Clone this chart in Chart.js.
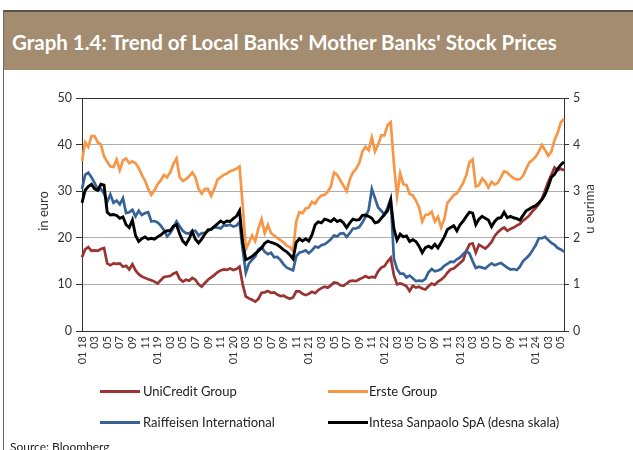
<!DOCTYPE html>
<html>
<head>
<meta charset="utf-8">
<script src="https://cdn.jsdelivr.net/npm/chart.js@4.4.1/dist/chart.umd.min.js"></script>
<style>
  body { margin: 0; background: #fff; }
  #wrap { position: relative; width: 633px; height: 450px; overflow: hidden; font-family: Lato, "Noto Sans", sans-serif; }
  #frame { position: absolute; left: 3px; top: 10px; width: 640px; height: 460px; border-left: 1px solid #6a6a6a; border-top: 2px solid #5b534b; }
  #band { position: absolute; left: 4px; top: 12px; width: 629px; height: 58px; background: #a38c70; }
  #band div { position: absolute; left: 8px; top: 20px; font-size: 20.5px; line-height: 21px; font-weight: 700; color: #fff; white-space: nowrap; }
  canvas { position: absolute; left: 0; top: 0; }
  .sw { position: absolute; width: 40px; height: 3px; }
  .lt { position: absolute; font-size: 13px; line-height: 14px; color: #222; white-space: nowrap; }
  #src { position: absolute; left: 10px; top: 440px; font-size: 12px; line-height: 14px; color: #222; }
</style>
</head>
<body>
<div id="wrap">
  <canvas id="StockChart" width="633" height="450"></canvas>
  <div id="frame"></div>
  <div id="band"><div>Graph 1.4: Trend of Local Banks' Mother Banks' Stock Prices</div></div>
  <div class="sw" style="left:100px;top:390px;background:#9a3432"></div>
  <div class="lt" style="left:143px;top:384px">UniCredit Group</div>
  <div class="sw" style="left:328px;top:390px;background:#f79646"></div>
  <div class="lt" style="left:369px;top:384px">Erste Group</div>
  <div class="sw" style="left:100px;top:421px;background:#376296"></div>
  <div class="lt" style="left:143px;top:415px">Raiffeisen International</div>
  <div class="sw" style="left:328px;top:421px;background:#000"></div>
  <div class="lt" style="left:369px;top:415px">Intesa Sanpaolo SpA (desna skala)</div>
  <div id="src">Source: Bloomberg</div>
</div>
<script>
// half-month observations, Jan 2018 - May 2024
var tickLabels = ['01 18','03','05','07','09','11','01 19','03','05','07','09','11',
  '01 20','03','05','07','09','11','01 21','03','05','07','09','11',
  '01 22','03','05','07','09','11','01 23','03','05','07','09','11',
  '01 24','03','05'];

var uniCredit = [
  15.8,17.5,18,17.2,17.3,17.2,17.6,17.8,14.5,14.1,
  14.5,14.4,14.5,13.8,14,13.2,14.3,13,12.2,11.7,
  11.4,11.1,10.9,10.6,10.2,10.9,11.6,11.7,11.8,12.3,
  12.6,11.2,10.6,11,10.8,11.4,11,10,9.5,10.3,
  11,11.5,12,12.6,13,13.2,13.1,13.4,13.1,13.3,
  13.8,10,7.4,7,6.7,6.3,6.9,8.2,8.3,8.6,
  8.2,8.3,7.8,7.5,7.6,7.2,6.9,7.2,8.5,8.5,
  8,7.7,8,8.4,8.1,8.8,9.2,9.5,9.3,9.8,
  10.4,10.3,9.8,9.7,10.2,10.7,10.8,10.7,11.1,11.4,
  11.8,11.4,11.6,11.5,12.8,13.6,13.9,14.9,15.7,12,
  10,10.2,10,9.6,8.6,9.7,9.3,9.5,9.1,8.9,
  9.6,10.2,9.9,10.6,11,11.6,12.5,13.2,13.4,14,
  14.6,15.2,17.2,18.6,18.8,16.8,18.5,18.1,17.7,18.3,
  19.1,20.4,21.2,21.8,22.2,21.5,21.9,22.2,22.6,23,
  23.7,24.2,24.8,25.7,26.4,27.2,28.4,30.2,32,33.5,
  35.1,34.5,34.8,34.5
];

var erste = [
  36.5,40.5,39.5,41.8,41.8,40.5,40,37.5,36.3,35.3,
  35.2,36.8,34.5,36.6,37,36,36.4,36,35,33.5,
  32.3,30.5,29.2,30.2,31.5,32.3,33.5,33,34,35.8,
  37,33,32.2,32.6,33.2,34,33,30.5,29.5,30.5,
  30.5,29,30.5,32.5,33,33.5,33.8,34.3,34.5,34.8,
  35.3,27,17.5,19,20.5,19.3,22,24,21,22.8,
  21,20.5,20,19.5,19,18.3,18,17.2,23.5,25.5,
  25.3,26.3,26.5,27.7,27.3,28.4,29.1,29.2,29.9,31,
  34,33.5,32.3,31.2,30,32.5,34,34.8,36,38.5,
  39.5,38.8,41.5,38.5,40,42,42,44.2,44.8,36,
  29,33.8,31.5,31.3,29.4,29.1,28,26.5,23.5,24.9,
  25,25.6,23.5,24.5,22.2,24,27.5,28.3,29.2,29.5,
  30.6,31.8,33.5,36.2,36.8,31,31.3,32.7,32,30.8,
  32,31.4,31.8,33,34.3,34,33.3,32.8,32.5,32.6,
  33.3,34.8,36.2,36.7,37.4,38.5,39.9,38.8,37.6,38.5,
  41,42.5,44.8,45.5
];

var raiffeisen = [
  30.5,33.5,34,33,31.8,30.3,30.5,29.5,27.7,29.3,
  27.5,28,27.2,28.5,25.3,25.5,26,24.6,25.8,24.9,
  25.3,25.5,23.5,23.6,23.3,22.6,21.7,20.3,21,22.2,
  23.5,22.5,21.5,21,20.9,21.5,21.5,20.5,21,21,
  21.5,21.9,22.3,22.2,22,22.7,22.6,22.8,22.4,22.6,
  23.4,17.5,12.5,14.5,15.3,16,17.5,18,17,16.5,
  16.8,15.8,15.9,15.2,14.3,13.6,13.3,13,16,16.8,
  17,17.3,16.7,17.3,18.1,17.9,18.4,18.6,19.1,19.7,
  20.5,20.3,20.9,21,20.2,21,22,22,22.3,23.3,
  24.5,26,30.5,28.5,26.5,25.8,25,26.5,28.4,15.5,
  13.3,12.3,12.3,11.5,11.9,11.3,10.7,10.8,10.7,11.2,
  12.6,13.3,12.8,13,13.3,14,14.4,14.9,14.8,15.4,
  15.8,16.5,17.2,16.6,15,13.5,13.8,13.6,13.4,14,
  14.5,14.1,14.4,14.6,14.1,13.6,13.2,13.3,13.1,13.8,
  15,15.6,16.3,17.3,18.4,19.9,19.9,20.2,19.5,18.9,
  18.5,17.8,17.5,17
];

// right-hand scale
var intesa = [
  2.75,3.02,3.1,3.15,3.05,3.02,3.15,3.13,2.55,2.49,
  2.5,2.48,2.42,2.45,2.28,2.22,2.38,2.05,1.92,1.98,
  2.02,1.97,1.99,1.97,2.02,2.06,2.12,2.15,2.15,2.25,
  2.28,2.08,1.93,1.86,1.98,2.13,1.97,1.89,1.97,2.08,
  2.17,2.18,2.24,2.3,2.36,2.32,2.36,2.35,2.41,2.46,
  2.58,1.9,1.53,1.56,1.6,1.66,1.72,1.78,1.88,1.93,
  1.9,1.88,1.85,1.8,1.74,1.7,1.63,1.55,1.9,1.98,
  1.93,1.98,1.93,2.06,2.28,2.34,2.32,2.4,2.38,2.35,
  2.41,2.35,2.38,2.32,2.22,2.32,2.4,2.38,2.39,2.48,
  2.49,2.46,2.42,2.32,2.34,2.42,2.5,2.58,2.8,2.2,
  1.95,2.08,2.02,2.04,1.92,1.96,1.92,1.82,1.68,1.79,
  1.82,1.78,1.86,1.78,1.9,2.02,2.18,2.22,2.26,2.15,
  2.28,2.36,2.46,2.55,2.53,2.28,2.4,2.46,2.42,2.38,
  2.24,2.35,2.42,2.43,2.55,2.43,2.46,2.43,2.41,2.38,
  2.48,2.58,2.62,2.66,2.69,2.75,2.82,2.93,3.1,3.3,
  3.36,3.48,3.57,3.63
];

var periods = [];
for (var y = 2018; periods.length < uniCredit.length; y++) {
  for (var m = 1; m <= 12 && periods.length < uniCredit.length; m++) {
    periods.push(y + '-' + (m < 10 ? '0' : '') + m + 'a');
    if (periods.length < uniCredit.length) periods.push(y + '-' + (m < 10 ? '0' : '') + m + 'b');
  }
}

Chart.defaults.font.family = 'Lato, "Noto Sans", sans-serif';
Chart.defaults.font.size = 12;
Chart.defaults.color = '#333';

var axisTitles = {
  id: 'axisTitles',
  afterDraw: function (chart) {
    var ctx = chart.ctx;
    ctx.save();
    ctx.font = '13px Lato, "Noto Sans", sans-serif';
    ctx.fillStyle = '#333';
    ctx.textAlign = 'center';
    ctx.textBaseline = 'middle';
    ctx.translate(44, 211);
    ctx.rotate(-Math.PI / 2);
    ctx.fillText('in euro', 0, 0);
    ctx.restore();
    ctx.save();
    ctx.font = '13px Lato, "Noto Sans", sans-serif';
    ctx.fillStyle = '#333';
    ctx.textAlign = 'center';
    ctx.textBaseline = 'middle';
    ctx.translate(590, 209);
    ctx.rotate(-Math.PI / 2);
    ctx.fillText('u eurima', 0, 0);
    ctx.restore();
  }
};

function line(label, values, colour, width, axis, order) {
  return {
    label: label, data: values, borderColor: colour, backgroundColor: colour,
    borderWidth: width, pointRadius: 0, tension: 0, yAxisID: axis, order: order
  };
}

new Chart(document.getElementById('StockChart').getContext('2d'), {
  type: 'line',
  data: {
    labels: periods,
    datasets: [
      line('UniCredit Group', uniCredit, '#9a3432', 2.7, 'y', 3),
      line('Erste Group', erste, '#f79646', 2.7, 'y', 2),
      line('Raiffeisen International', raiffeisen, '#376296', 2.7, 'y', 1),
      line('Intesa Sanpaolo SpA (desna skala)', intesa, '#000000', 2.9, 'y2', 0)
    ]
  },
  options: {
    responsive: false,
    animation: false,
    layout: { padding: { top: 98, left: 0, right: 0, bottom: 0 } },
    plugins: { legend: { display: false }, title: { display: false }, tooltip: { enabled: false } },
    scales: {
      x: {
        type: 'category',
        offset: false,
        grid: { display: true, drawOnChartArea: false, drawTicks: false },
        border: { color: '#333', width: 1 },
        ticks: {
          autoSkip: false, minRotation: 90, maxRotation: 90, padding: 5,
          font: { size: 11 },
          callback: function (v, i) { return i % 4 === 0 ? tickLabels[i / 4] : ''; }
        },
        afterFit: function (s) { s.height = 119; }
      },
      y: {
        position: 'left', min: 0, max: 50,
        ticks: { stepSize: 10, padding: 4, font: { size: 12.5 } },
        grid: {
          color: function (c) { return c.tick && c.tick.value === 50 ? '#333' : '#adadad'; },
          tickColor: '#333', tickLength: 6
        },
        border: { color: '#333' },
        afterFit: function (s) { s.width = 82; }
      },
      y2: {
        position: 'right', min: 0, max: 5,
        ticks: { stepSize: 1, padding: 4, font: { size: 12.5 } },
        grid: { drawOnChartArea: false, tickColor: '#333', tickLength: 5 },
        border: { color: '#333' },
        afterFit: function (s) { s.width = 69; }
      }
    }
  },
  plugins: [axisTitles]
});
</script>
</body>
</html>
